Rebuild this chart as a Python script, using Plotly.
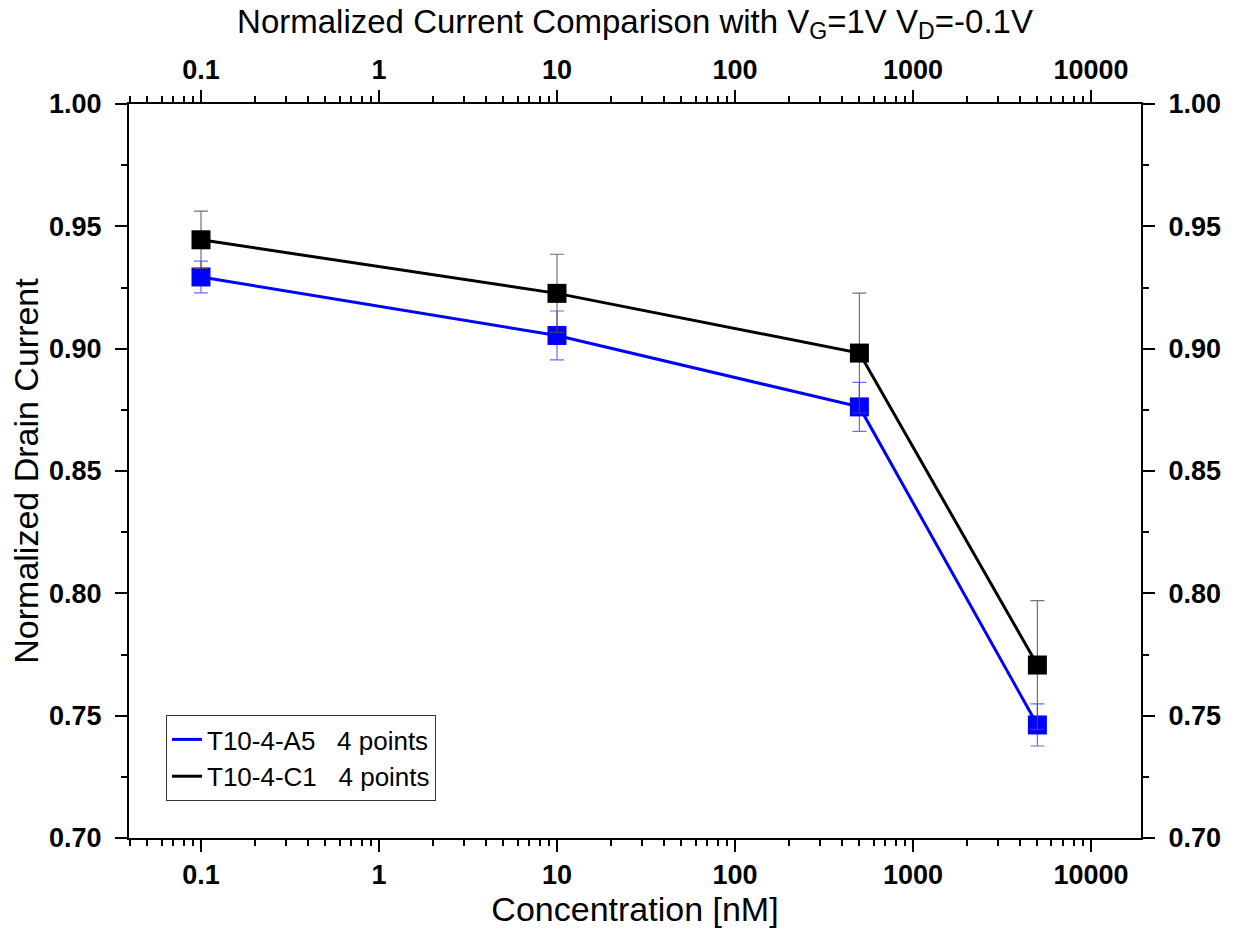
import plotly.graph_objects as go
import numpy as np

# Data
concentration = [0.1, 10, 500, 5000]
a5_current = [0.9293, 0.9054, 0.8762, 0.7462]
a5_err = [0.0065, 0.0100, 0.0100, 0.0086]
c1_current = [0.9445, 0.9226, 0.8982, 0.7707]
c1_err = [0.0117, 0.0160, 0.0245, 0.0263]
series_names = ["T10-4-A5   4 points", "T10-4-C1   4 points"]

x_ticks = [0.1, 1, 10, 100, 1000, 10000]
x_ticktext = ["0.1", "1", "10", "100", "1000", "10000"]
x_minor = [m * 10.0 ** d for d in range(-2, 5) for m in range(2, 10)]

FONT = "Arial, Liberation Sans, sans-serif"

fig = go.Figure()

fig.add_trace(go.Scatter(
    x=concentration, y=a5_current, mode="lines+markers",
    line=dict(color="#0000FF", width=3),
    marker=dict(symbol="square", size=19, color="#0000FF",
                line=dict(width=0)),
    error_y=dict(type="data", array=a5_err, visible=True,
                 color="rgba(60,60,230,0.75)", thickness=1.2, width=7),
    showlegend=False, name=series_names[0]))

fig.add_trace(go.Scatter(
    x=concentration, y=c1_current, mode="lines+markers",
    line=dict(color="#000000", width=3),
    marker=dict(symbol="square", size=19, color="#000000",
                line=dict(width=0)),
    error_y=dict(type="data", array=c1_err, visible=True,
                 color="rgba(80,80,80,0.8)", thickness=1.2, width=7),
    showlegend=False, name=series_names[1]))

# legend-only entries (line only)
fig.add_trace(go.Scatter(x=[None], y=[None], mode="lines",
                         line=dict(color="#0000FF", width=3),
                         name=series_names[0]))
fig.add_trace(go.Scatter(x=[None], y=[None], mode="lines",
                         line=dict(color="#000000", width=3),
                         name=series_names[1]))

# invisible trace for secondary axes
fig.add_trace(go.Scatter(x=[1], y=[0.8], xaxis="x2", yaxis="y2",
                         mode="markers", marker=dict(opacity=0),
                         showlegend=False, hoverinfo="skip"))

xrange = [-1.4045, 4.281]
yrange = [0.70, 1.00]

common_x = dict(
    type="log", range=xrange, tickmode="array", tickvals=x_ticks,
    ticktext=x_ticktext, ticks="outside", ticklen=12, tickwidth=2,
    tickcolor="black", showline=True, linecolor="black", linewidth=2,
    showgrid=False, zeroline=False,
    tickfont=dict(family=FONT, size=27, color="black", weight="bold"),
    minor=dict(tickmode="array", tickvals=x_minor, ticks="outside",
               ticklen=6, tickwidth=2, tickcolor="black", showgrid=False),
)
common_y = dict(
    range=yrange, tickmode="linear", tick0=0.70, dtick=0.05,
    tickformat=".2f", ticks="outside", ticklen=12, tickwidth=2,
    tickcolor="black", showline=True, linecolor="black", linewidth=2,
    showgrid=False, zeroline=False, ticklabelstandoff=8,
    tickfont=dict(family=FONT, size=27, color="black", weight="bold"),
    minor=dict(dtick=0.025, ticks="outside", ticklen=6, tickwidth=2,
               tickcolor="black", showgrid=False),
)

fig.update_layout(
    width=1237, height=949,
    margin=dict(l=129, r=96, t=104, b=111),
    paper_bgcolor="white", plot_bgcolor="white",
    font=dict(family=FONT, color="black"),
    title=dict(
        text="Normalized Current Comparison with V<sub>G</sub>=1V V<sub>D</sub>=-0.1V",
        x=(129 + 1141) / 2 / 1237, xanchor="center",
        y=1 - 21 / 949, yanchor="middle",
        font=dict(family=FONT, size=33, color="black")),
    xaxis=dict(**common_x,
               title=dict(text="Concentration [nM]",
                          font=dict(family=FONT, size=34, color="black"),
                          standoff=0)),
    yaxis=dict(**common_y,
               title=dict(text="Normalized Drain Current",
                          font=dict(family=FONT, size=34, color="black"),
                          standoff=0)),
    xaxis2=dict(**common_x, overlaying="x", side="top", anchor="y2"),
    yaxis2=dict(**common_y, overlaying="y", side="right", anchor="x2"),
    legend=dict(x=(166 - 129) / 1012, y=(838 - 715) / 734,
                xanchor="left", yanchor="top",
                bgcolor="white", bordercolor="#333333", borderwidth=1,
                font=dict(family=FONT, size=26, color="black"),
                tracegroupgap=0),
)

fig.write_html("out.html")
